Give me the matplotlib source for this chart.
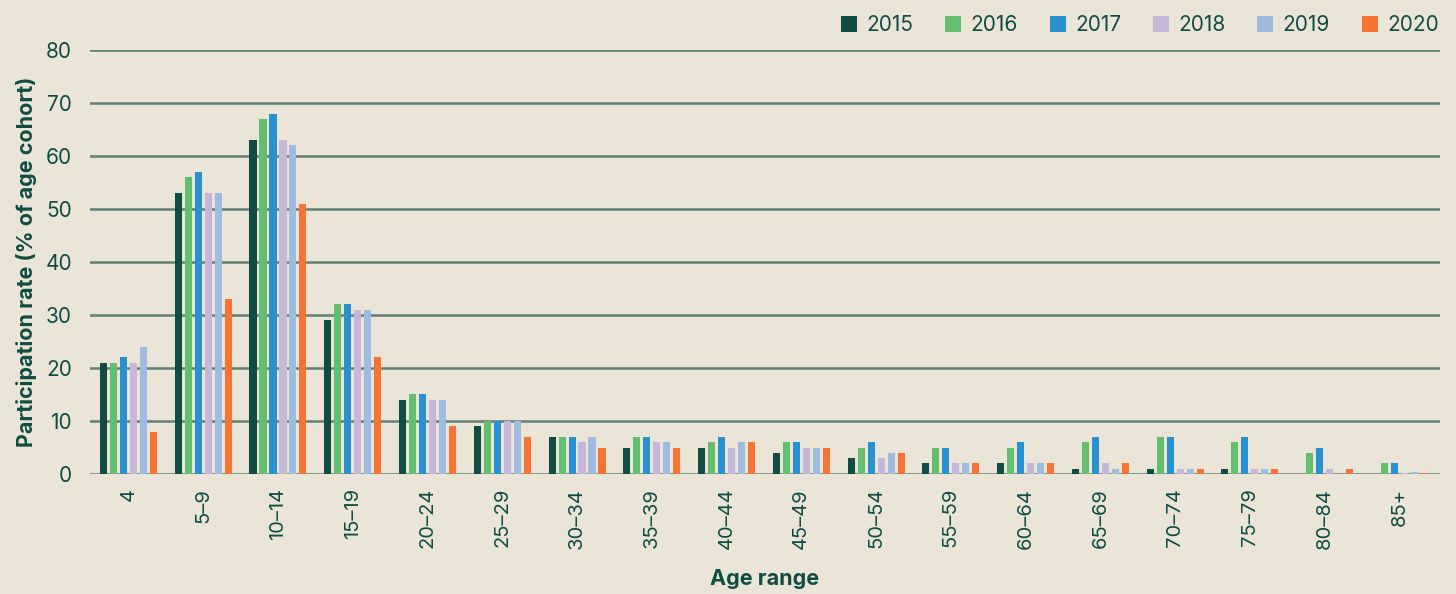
import matplotlib
import numpy as np

matplotlib.use("Agg")
import matplotlib.pyplot as plt  # noqa: E402

plt.rcParams["font.family"] = ["Inter", "DejaVu Sans"]

ages = ["4", "5\u20139", "10\u201314", "15\u201319", "20\u201324", "25\u201329", "30\u201334",
        "35\u201339", "40\u201344", "45\u201349", "50\u201354", "55\u201359", "60\u201364",
        "65\u201369", "70\u201374", "75\u201379", "80\u201384", "85+"]
years = ["2015", "2016", "2017", "2018", "2019", "2020"]
y2015 = [21, 53, 63, 29, 14, 9, 7, 5, 5, 4, 3, 2, 2, 1, 1, 1, 0, 0]
y2016 = [21, 56, 67, 32, 15, 10, 7, 7, 6, 6, 5, 5, 5, 6, 7, 6, 4, 2]
y2017 = [22, 57, 68, 32, 15, 10, 7, 7, 7, 6, 6, 5, 6, 7, 7, 7, 5, 2]
y2018 = [21, 53, 63, 31, 14, 10, 6, 6, 5, 5, 3, 2, 2, 2, 1, 1, 1, 0.1]
y2019 = [24, 53, 62, 31, 14, 10, 7, 6, 6, 5, 4, 2, 2, 1, 1, 1, 0, 0.3]
y2020 = [8, 33, 51, 22, 9, 7, 5, 5, 6, 5, 4, 2, 2, 2, 1, 1, 1, 0.2]
series = [y2015, y2016, y2017, y2018, y2019, y2020]
colors = ["#0F4D42", "#63BE6E", "#2991CF", "#C5B7D8", "#A0BBE0", "#F47335"]

BG = "#EBE5D7"
TXT = "#0F4D42"
GRID = "#5F8072"

fig = plt.figure(figsize=(14.56, 5.94), dpi=100, facecolor=BG)
ax = fig.add_axes([0.0618, 0.202, 0.927, 0.714], facecolor=BG)

x = np.arange(len(ages))
pitch = 0.1337
for i, (vals, c, yr) in enumerate(zip(series, colors, years)):
    ax.bar(x + (i - 2.5) * pitch, vals, width=0.094, color=c, label=yr, zorder=3)

ax.set_ylim(0, 80)
ax.set_xlim(-0.515, 17.54)
ax.set_yticks(range(0, 81, 10))
ax.yaxis.grid(True, color=GRID, lw=1.8, zorder=1)
ax.set_axisbelow(True)
ax.set_xticks(x)
ax.set_xticklabels(ages, rotation=90)
ax.tick_params(axis="x", length=0, labelsize=14.5, colors=TXT, pad=10)
ax.tick_params(axis="y", length=0, labelsize=15, colors=TXT, pad=13)
for sp in ax.spines.values():
    sp.set_visible(False)

ax.set_xlabel("Age range", fontsize=15.5, fontweight="bold", color=TXT, labelpad=14)
ax.set_ylabel("Participation rate (% of age cohort)", fontsize=15.5, fontweight="bold",
              color=TXT, labelpad=6)

leg = fig.legend(loc="upper right", bbox_to_anchor=(0.9938, 0.988), borderaxespad=0,
                 ncol=6, frameon=False, handlelength=0.77, handleheight=0.77,
                 columnspacing=1.54, handletextpad=0.43, prop={"size": 15})
for t in leg.get_texts():
    t.set_color(TXT)

fig.savefig("out.png", dpi=100, facecolor=BG)
